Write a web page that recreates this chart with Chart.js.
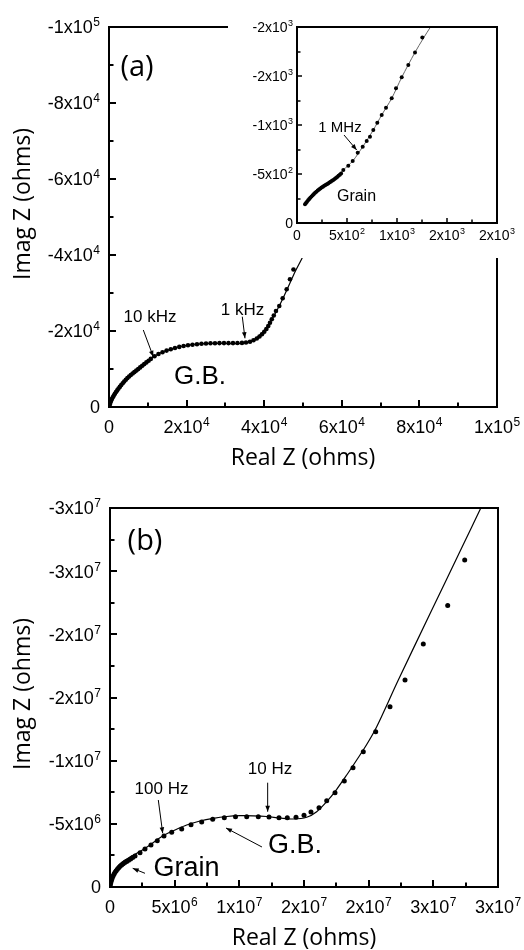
<!DOCTYPE html>
<html><head><meta charset="utf-8">
<script src="https://cdn.jsdelivr.net/npm/chart.js@4.4.0/dist/chart.umd.min.js"></script>
<style>
html,body{margin:0;padding:0;background:#fff;}
#wrap{position:relative;width:524px;height:950px;overflow:hidden;background:#fff;}
canvas{position:absolute;}
</style></head><body>
<div id="wrap">
<canvas id="cA" width="524" height="475" style="left:0;top:0;width:524px;height:475px"></canvas>
<canvas id="cIn" width="296" height="258" style="left:228px;top:0;width:296px;height:258px"></canvas>
<canvas id="cB" width="524" height="475" style="left:0;top:475px;width:524px;height:475px"></canvas>
</div>
<script>
// ---------- Panel (a): main Nyquist plot (ohms) ----------
const aRealPts = [77,206,361,541,747,979,1237,1520,1804,2113,2448,2783,3144,3530,3917,4329,4742,5180,5618,6082,6546,7035,7525,8040,8556,9097,9638,10205,10772,11725,12756,13787,14844,15926,17008,18117,19225,20358,21518,22678,23837,24997,26157,27316,28476,29636,30795,31955,33114,34274,35305,36337,37239,38089,38785,39428,40021,40562,41052,41490,41953,42469,43036,43886,44762,45793,46644,47546];
const aImagPts = [-211,-684,-1158,-1632,-2106,-2579,-3027,-3474,-3922,-4369,-4843,-5290,-5764,-6238,-6712,-7159,-7606,-8028,-8422,-8817,-9186,-9580,-9975,-10423,-10844,-11291,-11739,-12186,-12660,-13344,-13950,-14423,-14845,-15213,-15529,-15819,-16055,-16239,-16397,-16529,-16634,-16713,-16766,-16792,-16818,-16818,-16818,-16818,-16845,-16871,-16976,-17161,-17555,-18029,-18556,-19135,-19793,-20530,-21319,-22161,-23083,-24083,-25267,-26583,-28610,-30978,-33611,-36190];
const aRealFit = [0,258,644,1108,1675,2397,3221,4123,5850,7551,9277,11004,12705,14431,16158,17859,19585,21312,23013,24739,26466,28167,29893,31620,33321,35047,36336,37624,38913,40201,41490,42778,44067,45355,46644,47932,49659,50252];
const aImagFit = [0,-579,-1448,-2290,-3290,-4606,-5790,-6975,-8817,-10317,-11712,-12976,-13950,-14739,-15318,-15792,-16134,-16424,-16582,-16687,-16740,-16740,-16713,-16687,-16687,-16845,-17187,-17898,-18950,-20398,-22240,-24478,-26978,-29742,-32637,-35532,-38954,-40270];
const aXTicks = [0,20000,40000,60000,80000,100000];
const aXTickLabels = ["0","2x10^4","4x10^4","6x10^4","8x10^4","1x10^5"];
const aYTicks = [0,-20000,-40000,-60000,-80000,-100000];
const aYTickLabels = ["0","-2x10^4","-4x10^4","-6x10^4","-8x10^4","-1x10^5"];

// ---------- Inset of (a): grain arc (ohms) ----------
const inRealPts = [80,90,100,111,122,133,145,157,169,181,194,207,220,233,246,259,272,285,298,311,324,337,350,363,376,389,402,415,428,441,463,513,557,607,657,697,730,763,803,847,890,947,990,1047,1113,1180,1253];
const inImagPts = [-191,-204,-217,-231,-245,-258,-271,-284,-296,-308,-320,-331,-342,-352,-361,-370,-379,-387,-396,-404,-413,-422,-431,-440,-450,-460,-470,-481,-493,-506,-541,-584,-632,-717,-778,-836,-880,-949,-1023,-1102,-1176,-1272,-1374,-1486,-1612,-1741,-1894];
const inRealFit = [80,180,280,380,463,557,657,763,847,947,1047,1180,1262,1335,1365];
const inImagFit = [-191,-309,-385,-452,-541,-632,-778,-949,-1102,-1272,-1486,-1741,-1882,-2000,-2045];
const inXTicks = [0,500,1000,1500,2000];
const inXTickLabels = ["0","5x10^2","1x10^3","2x10^3","2x10^3"];
const inYTicks = [0,-500,-1000,-1500,-2000];
const inYTickLabels = ["0","-5x10^2","-1x10^3","-2x10^3","-2x10^3"];

// ---------- Panel (b) (ohms) ----------
const bRealPts = [0.015e6,0.046e6,0.085e6,0.131e6,0.186e6,0.247e6,0.317e6,0.394e6,0.479e6,0.572e6,0.673e6,0.781e6,0.897e6,1.021e6,1.152e6,1.291e6,1.438e6,1.593e6,1.755e6,1.933e6,2.320e6,2.706e6,3.170e6,3.657e6,4.175e6,4.771e6,5.544e6,6.263e6,7.090e6,7.941e6,8.838e6,9.704e6,10.570e6,11.466e6,12.294e6,13.067e6,13.709e6,14.382e6,15.000e6,15.541e6,16.160e6,16.755e6,17.397e6,18.116e6,18.789e6,19.585e6,20.544e6,21.650e6,22.810e6,24.225e6,26.111e6,27.426e6];
const bImagPts = [-0.119e6,-0.277e6,-0.435e6,-0.594e6,-0.752e6,-0.894e6,-1.029e6,-1.164e6,-1.290e6,-1.409e6,-1.528e6,-1.639e6,-1.741e6,-1.836e6,-1.931e6,-2.026e6,-2.121e6,-2.216e6,-2.327e6,-2.454e6,-2.715e6,-3.008e6,-3.325e6,-3.665e6,-4.037e6,-4.330e6,-4.591e6,-4.931e6,-5.145e6,-5.359e6,-5.485e6,-5.564e6,-5.564e6,-5.564e6,-5.541e6,-5.485e6,-5.485e6,-5.517e6,-5.675e6,-5.937e6,-6.277e6,-6.831e6,-7.465e6,-8.391e6,-9.444e6,-10.71e6,-12.29e6,-14.27e6,-16.38e6,-19.23e6,-22.29e6,-25.88e6];
const bRealFit = [0,0.077e6,0.232e6,0.464e6,0.773e6,1.160e6,1.546e6,2.320e6,3.093e6,4.121e6,5.026e6,5.930e6,6.959e6,7.987e6,9.023e6,10.052e6,11.080e6,12.116e6,13.144e6,14.173e6,15.209e6,15.982e6,16.755e6,17.529e6,18.302e6,19.075e6,19.848e6,20.622e6,22.292e6,24.742e6,27.317e6,28.662e6,29.2e6];
const bImagFit = [0,-0.554e6,-1.029e6,-1.464e6,-1.821e6,-2.137e6,-2.375e6,-2.810e6,-3.325e6,-4.076e6,-4.512e6,-4.908e6,-5.224e6,-5.438e6,-5.580e6,-5.644e6,-5.636e6,-5.580e6,-5.462e6,-5.383e6,-5.517e6,-5.960e6,-6.752e6,-7.733e6,-8.865e6,-10.053e6,-11.280e6,-12.689e6,-16.385e6,-21.626e6,-27.111e6,-29.976e6,-31.1e6];
const bXTicks = [0,5e6,10e6,15e6,20e6,25e6,30e6];
const bXTickLabels = ["0","5x10^6","1x10^7","2x10^7","2x10^7","3x10^7","3x10^7"];
const bYTicks = [0,-5e6,-10e6,-15e6,-20e6,-25e6,-30e6];
const bYTickLabels = ["0","-5x10^6","-1x10^7","-2x10^7","-2x10^7","-3x10^7","-3x10^7"];

// ---------- helpers ----------
function zip(xs, ys){ const n=Math.min(xs.length,ys.length); const o=[]; for(let i=0;i<n;i++) o.push({x:xs[i],y:ys[i]}); return o; }
const TICKFONT = '"Liberation Sans", Arial, sans-serif';
const TITLEFONT = '"Open Sans", "Noto Sans", sans-serif';

function drawExpLabel(ctx, str, x, y, align, fs, efs, rise){
  const parts = str.split('^');
  const base = parts[0], exp = parts[1] || '';
  ctx.font = fs + 'px ' + TICKFONT;
  const wb = ctx.measureText(base).width;
  ctx.font = efs + 'px ' + TICKFONT;
  const we = exp ? ctx.measureText(exp).width + 0.5 : 0;
  const tot = wb + we;
  let x0 = align === 'right' ? x - tot : (align === 'center' ? x - tot/2 : x);
  ctx.textAlign = 'left'; ctx.textBaseline = 'alphabetic';
  ctx.font = fs + 'px ' + TICKFONT;
  ctx.fillText(base, x0, y);
  if (exp){ ctx.font = efs + 'px ' + TICKFONT; ctx.fillText(exp, x0 + wb + 0.5, y - rise); }
}
function arrow(ctx, x1, y1, x2, y2){
  ctx.beginPath(); ctx.moveTo(x1,y1); ctx.lineTo(x2,y2); ctx.lineWidth=1; ctx.stroke();
  const ang = Math.atan2(y2-y1, x2-x1), L=6, W=2.3;
  ctx.beginPath();
  ctx.moveTo(x2,y2);
  ctx.lineTo(x2 - L*Math.cos(ang) + W*Math.sin(ang), y2 - L*Math.sin(ang) - W*Math.cos(ang));
  ctx.lineTo(x2 - L*Math.cos(ang) - W*Math.sin(ang), y2 - L*Math.sin(ang) + W*Math.cos(ang));
  ctx.closePath(); ctx.fill();
}

function decor(cfg){
  return {
    id: 'decor',
    beforeDraw(chart){ const c=chart.ctx; c.save(); c.fillStyle='#fff'; c.fillRect(0,0,chart.width,chart.height); c.restore(); },
    afterDraw(chart){
      const ctx = chart.ctx, a = chart.chartArea, xs = chart.scales.x, ys = chart.scales.y;
      ctx.save();
      ctx.fillStyle = '#000'; ctx.strokeStyle = '#000';
      ctx.lineWidth = cfg.frameW;
      ctx.strokeRect(a.left, a.top, a.right - a.left, a.bottom - a.top);
      // ticks (inward) on left and bottom
      ctx.lineWidth = cfg.tickW;
      const drawY = (v, len) => { const p = Math.round(ys.getPixelForValue(v)); ctx.beginPath(); ctx.moveTo(a.left, p); ctx.lineTo(a.left + len, p); ctx.stroke(); };
      const drawX = (v, len) => { const p = Math.round(xs.getPixelForValue(v)); ctx.beginPath(); ctx.moveTo(p, a.bottom); ctx.lineTo(p, a.bottom - len); ctx.stroke(); };
      cfg.yTicks.forEach((v,i) => { drawY(v, cfg.majorLen); if (i>0) drawY((v + cfg.yTicks[i-1])/2, cfg.minorLen); });
      cfg.xTicks.forEach((v,i) => { drawX(v, cfg.majorLen); if (i>0) drawX((v + cfg.xTicks[i-1])/2, cfg.minorLen); });
      // tick labels
      cfg.yTicks.forEach((v,i) => { const p = ys.getPixelForValue(v); drawExpLabel(ctx, cfg.yLabels[i], a.left - cfg.yLabGap, p + cfg.fs*0.36, 'right', cfg.fs, cfg.efs, cfg.rise); });
      cfg.xTicks.forEach((v,i) => { const p = xs.getPixelForValue(v); drawExpLabel(ctx, cfg.xLabels[i], p, a.bottom + cfg.xLabGap, 'center', cfg.fs, cfg.efs, cfg.rise); });
      // axis titles
      if (cfg.xTitle){
        ctx.font = cfg.titleFs + 'px ' + TITLEFONT; ctx.textAlign='center'; ctx.textBaseline='alphabetic';
        ctx.fillText(cfg.xTitle, (a.left + a.right)/2, a.bottom + cfg.xTitleOff);
        ctx.save(); ctx.translate(cfg.yTitleX, cfg.yTitleY); ctx.rotate(-Math.PI/2);
        ctx.fillText(cfg.yTitle, 0, 0); ctx.restore();
      }
      // annotations
      (cfg.texts||[]).forEach(t => {
        ctx.font = t.size + 'px ' + (t.family || TICKFONT); ctx.textAlign='center'; ctx.textBaseline='middle';
        ctx.fillText(t.text, xs.getPixelForValue(t.x), ys.getPixelForValue(t.y));
      });
      (cfg.arrows||[]).forEach(r => {
        arrow(ctx, xs.getPixelForValue(r.x1), ys.getPixelForValue(r.y1), xs.getPixelForValue(r.x2), ys.getPixelForValue(r.y2));
      });
      ctx.restore();
    }
  };
}

function makeChart(id, pad, xr, yr, pts, fit, ptR, lineColor, lineW, cfg){
  return new Chart(document.getElementById(id), {
    type: 'scatter',
    data: { datasets: [
      { data: fit, showLine: true, borderColor: lineColor, borderWidth: lineW, pointRadius: 0, tension: 0.3, clip: 0, order: 2 },
      { data: pts, showLine: false, pointRadius: ptR, pointBackgroundColor: '#000', pointBorderWidth: 0, pointBorderColor: '#000', clip: 0, order: 1 }
    ]},
    options: {
      responsive: false, animation: false, devicePixelRatio: 1,
      layout: { padding: pad },
      plugins: { legend: { display: false }, tooltip: { enabled: false } },
      events: [],
      scales: {
        x: { type: 'linear', min: xr[0], max: xr[1], display: false },
        y: { type: 'linear', min: yr[0], max: yr[1], reverse: true, display: false }
      }
    },
    plugins: [decor(cfg)]
  });
}

// Panel (a)
makeChart('cA', {left:109, top:27, right:27, bottom:68}, [0,100000], [-100000,0],
  zip(aRealPts, aImagPts), zip(aRealFit, aImagFit), 2.3, '#000', 1.2, {
  frameW: 2, tickW: 2, majorLen: 7, minorLen: 4.5, fs: 18, efs: 12, rise: 7, yLabGap: 9, xLabGap: 26,
  xTicks: aXTicks, xLabels: aXTickLabels, yTicks: aYTicks, yLabels: aYTickLabels,
  xTitle: 'Real Z (ohms)', yTitle: 'Imag Z (ohms)', titleFs: 23, xTitleOff: 58, yTitleX: 30, yTitleY: 204,
  texts: [
    {text:'(a)', x:7216, y:-89357, size:29, family: TITLEFONT},
    {text:'10 kHz', x:10566, y:-23555, size:17},
    {text:'1 kHz', x:34403, y:-25530, size:17},
    {text:'G.B.', x:23451, y:-7896, size:26}
  ],
  arrows: [
    {x1:8839, y1:-20266, x2:11416, y2:-13239},
    {x1:34351, y1:-23767, x2:35047, y2:-18082}
  ]
});

// Inset
makeChart('cIn', {left:69, top:27, right:27, bottom:35}, [0,2000], [-2000,0],
  zip(inRealPts, inImagPts), zip(inRealFit, inImagFit), 2.0, '#666', 1, {
  frameW: 2, tickW: 1.5, majorLen: 5, minorLen: 3.5, fs: 14, efs: 9, rise: 6, yLabGap: 4, xLabGap: 17,
  xTicks: inXTicks, xLabels: inXTickLabels, yTicks: inYTicks, yLabels: inYTickLabels,
  texts: [
    {text:'1 MHz', x:430, y:-974, size:15},
    {text:'Grain', x:595, y:-270, size:16}
  ],
  arrows: [
    {x1:470, y1:-898, x2:597, y2:-745}
  ]
});

// Panel (b)
makeChart('cB', {left:110, top:33, right:26, bottom:63}, [0,30e6], [-30e6,0],
  zip(bRealPts, bImagPts), zip(bRealFit, bImagFit), 2.5, '#000', 1.2, {
  frameW: 2, tickW: 2, majorLen: 7, minorLen: 4.5, fs: 18, efs: 12, rise: 7, yLabGap: 9, xLabGap: 26,
  xTicks: bXTicks, xLabels: bXTickLabels, yTicks: bYTicks, yLabels: bYTickLabels,
  xTitle: 'Real Z (ohms)', yTitle: 'Imag Z (ohms)', titleFs: 23, xTitleOff: 58, yTitleX: 30, yTitleY: 219,
  texts: [
    {text:'(b)', x:2.706e6, y:-27.31e6, size:29, family: TITLEFONT},
    {text:'100 Hz', x:3.98e6, y:-7.72e6, size:17},
    {text:'10 Hz', x:12.37e6, y:-9.30e6, size:17},
    {text:'G.B.', x:14.30e6, y:-3.245e6, size:27},
    {text:'Grain', x:5.915e6, y:-1.425e6, size:27}
  ],
  arrows: [
    {x1:3.735e6, y1:-6.886e6, x2:4.075e6, y2:-4.25e6},
    {x1:12.19e6, y1:-8.256e6, x2:12.19e6, y2:-5.96e6},
    {x1:11.75e6, y1:-3.166e6, x2:8.97e6, y2:-4.67e6},
    {x1:2.706e6, y1:-1.084e6, x2:1.755e6, y2:-1.48e6}
  ]
});
</script>
</body></html>
